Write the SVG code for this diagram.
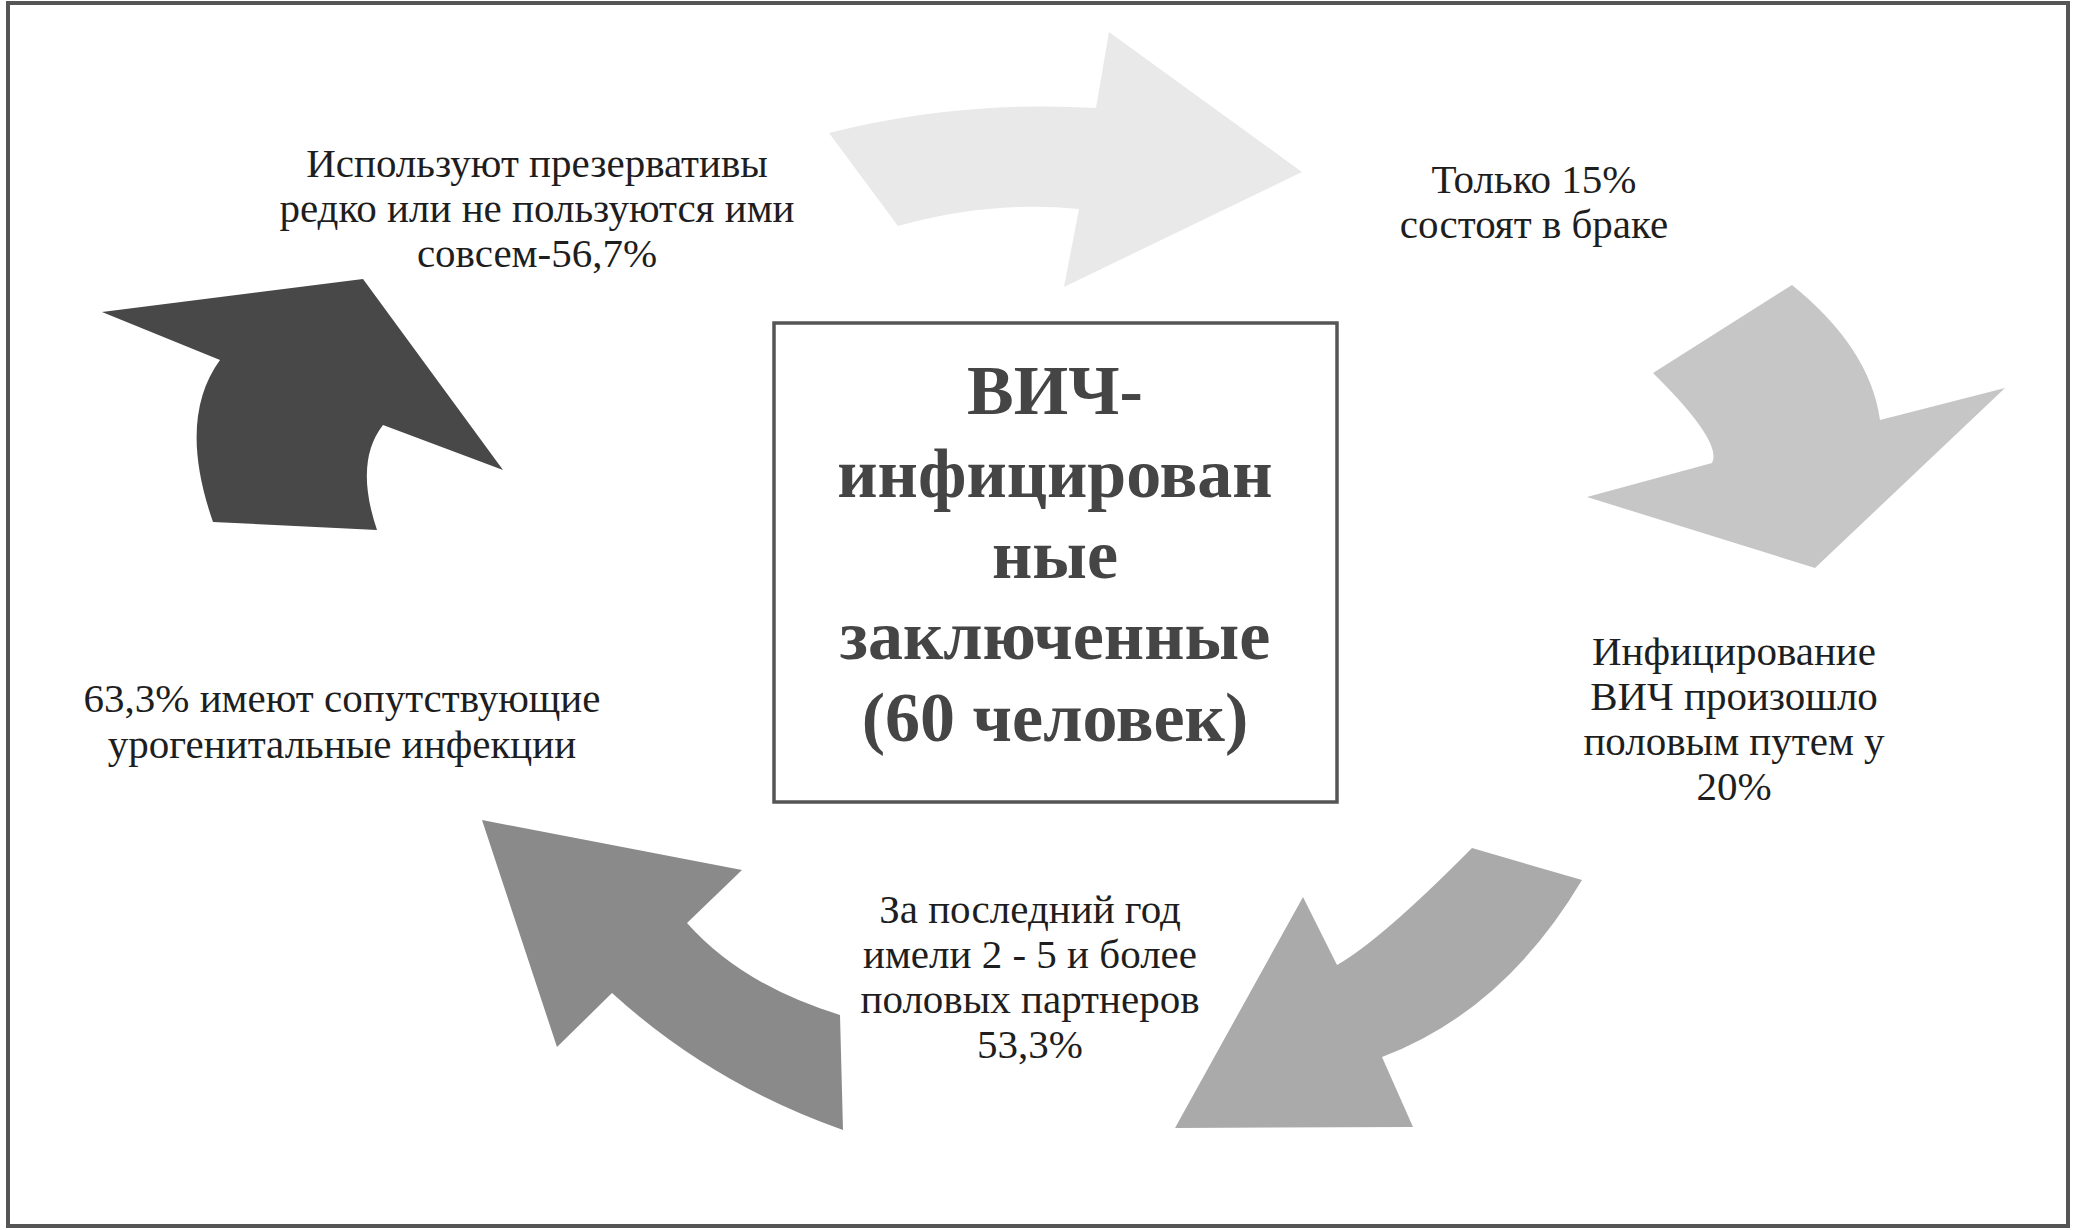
<svg xmlns="http://www.w3.org/2000/svg" width="2076" height="1230" viewBox="0 0 2076 1230">
<style>
.lbl{font-family:"Liberation Serif","Times New Roman",serif;font-size:41px;fill:#1e1e1e;text-anchor:middle}
.ttl{font-family:"Liberation Serif","Times New Roman",serif;font-size:70px;font-weight:bold;fill:#454545;text-anchor:middle}
</style>
<rect x="0" y="0" width="2076" height="1230" fill="#ffffff"/>
<rect x="8" y="3" width="2060" height="1223" fill="none" stroke="#555555" stroke-width="4"/>
<g id="connectors">
<path id="arrow-top" d="M 829 133 Q 960 100 1096 108 L 1109 32 L 1302 172 L 1064 287 L 1079 209 Q 990 200 898 226 Z" fill="#e9e9e9"/>
<path id="arrow-right" d="M 1792 285 Q 1870 348 1880 420 L 2005 388 L 1815 568 L 1587 497 L 1712 463 Q 1723 442 1653 373 Z" fill="#c6c6c6"/>
<path id="arrow-bottom-right" d="M 1472 848 L 1582 880 Q 1504 1011 1382 1057 L 1413 1127 L 1175 1128 L 1303 897 L 1337 965 Q 1381 940 1472 848 Z" fill="#aaaaaa"/>
<path id="arrow-bottom-left" d="M 482 820 L 742 870 L 687 923 Q 742 985 840 1015 L 843 1130 Q 712 1084 612 993 L 557 1047 Z" fill="#8a8a8a"/>
<path id="arrow-top-left" d="M 102 312 L 363 279 L 503 470 L 383 425 Q 354 462 377 530 L 213 522 Q 177 419 220 360 Z" fill="#484848"/>
</g>
<g id="center">
<rect x="774" y="323" width="563" height="479" fill="#ffffff" stroke="#555555" stroke-width="3.5"/>
<text class="ttl" x="1055" y="414">ВИЧ-</text>
<text class="ttl" x="1055" y="497">инфицирован</text>
<text class="ttl" x="1055" y="578">ные</text>
<text class="ttl" x="1055" y="659">заключенные</text>
<text class="ttl" x="1055" y="741">(60 человек)</text>
</g>
<g id="node-condoms">
<text class="lbl" x="537" y="177">Используют презервативы</text>
<text class="lbl" x="537" y="222">редко или не пользуются ими</text>
<text class="lbl" x="537" y="267">совсем-56,7%</text>
</g>
<g id="node-married">
<text class="lbl" x="1534" y="193">Только 15%</text>
<text class="lbl" x="1534" y="238">состоят в браке</text>
</g>
<g id="node-sexual">
<text class="lbl" x="1734" y="665">Инфицирование</text>
<text class="lbl" x="1734" y="710">ВИЧ произошло</text>
<text class="lbl" x="1734" y="755">половым путем у</text>
<text class="lbl" x="1734" y="800">20%</text>
</g>
<g id="node-partners">
<text class="lbl" x="1030" y="923">За последний год</text>
<text class="lbl" x="1030" y="968">имели 2 - 5 и более</text>
<text class="lbl" x="1030" y="1013">половых партнеров</text>
<text class="lbl" x="1030" y="1058">53,3%</text>
</g>
<g id="node-infections">
<text class="lbl" x="342" y="712">63,3% имеют сопутствующие</text>
<text class="lbl" x="342" y="758">урогенитальные инфекции</text>
</g>
</svg>
